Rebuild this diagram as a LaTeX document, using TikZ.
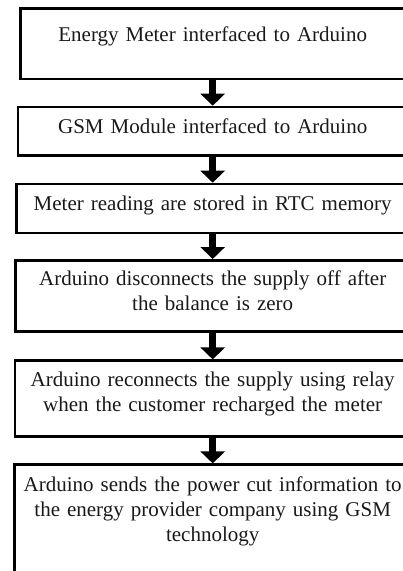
\documentclass[tikz,border=0pt]{standalone}
\usepackage{fontspec}
\newfontfamily\tnr{Liberation Serif}
\usetikzlibrary{arrows.meta}
\begin{document}
\begin{tikzpicture}[x=1pt,y=-1pt,
  stepbox/.style={draw=black, line width=2.6pt, inner sep=0pt, anchor=base,
    align=center, font=\tnr\fontsize{21}{25}\selectfont, text=black!90},
  flow/.style={line width=7.5pt, -{Triangle[width=24pt,length=12pt]}}]
\useasboundingbox (0,0) rectangle (403,571);
\clip (0,0) rectangle (403,571);
\node[stepbox, text width=384.4pt, text height=32.3pt, text depth=37.8pt] (b1) at (212.7,41)
  {Energy Meter interfaced to Arduino};
\node[stepbox, text width=389.4pt, text height=26pt, text depth=22.3pt] (b2) at (212.7,133)
  {GSM Module interfaced to Arduino};
\node[stepbox, text width=392pt, text height=26.5pt, text depth=22.5pt] (b3) at (212.7,210.5)
  {Meter reading are stored in RTC memory};
\node[stepbox, text width=394.6pt, text height=25.2pt, text depth=45.8pt] (b4) at (212.7,285.5)
  {Arduino disconnects the supply off after\\the balance is zero};
\node[stepbox, text width=395.4pt, text height=25.3pt, text depth=50.3pt] (b5) at (212.7,386)
  {Arduino reconnects the supply using relay\\when the customer recharged the meter};
\node[stepbox, text width=396pt, text height=26.8pt, text depth=120pt] (b6) at (212.7,491.5)
  {Arduino sends the power cut information to\\the energy provider company using GSM\\technology};
\draw[flow] (b1.south) -- (b2.north);
\draw[flow] (b2.south) -- (b3.north);
\draw[flow] (b3.south) -- (b4.north);
\draw[flow] (b4.south) -- (b5.north);
\draw[flow] (b5.south) -- (b6.north);
\end{tikzpicture}
\end{document}
